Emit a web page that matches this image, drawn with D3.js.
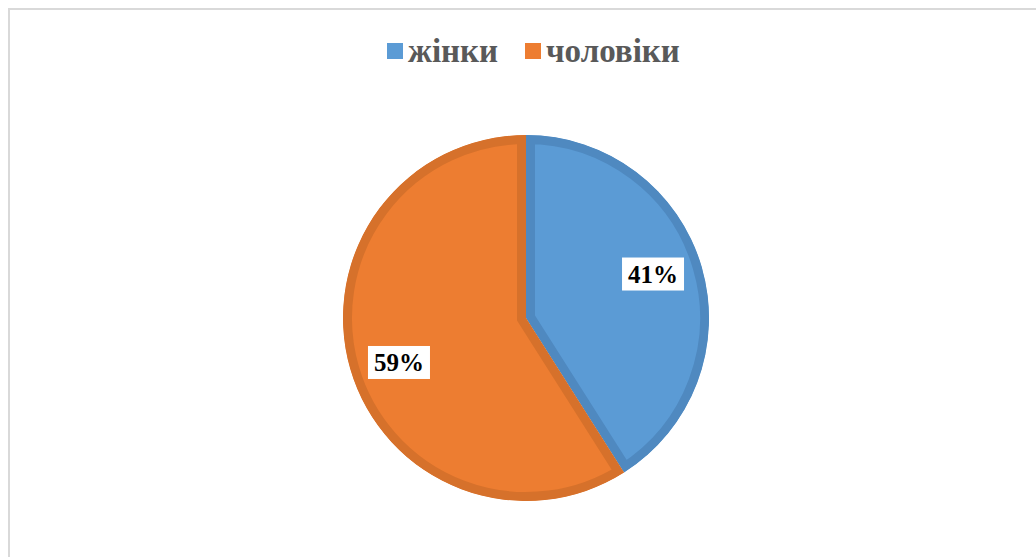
<!DOCTYPE html>
<html>
<head>
<meta charset="utf-8">
<script src="https://cdn.jsdelivr.net/npm/d3@7"></script>
<style>
  body { margin: 0; background: #fff; }
  svg { display: block; }
</style>
</head>
<body>
<svg width="1036" height="557"></svg>
<script>
var categories = ["жінки", "чоловіки"];
var values = [41, 59];
var labels = ["41%", "59%"];
var fills = ["#5b9bd5", "#ed7d31"];
var edges = ["#4f89c0", "#d6712b"];

var svg = d3.select("svg"),
    cx = 526, cy = 318, r = 183;

// chart frame
svg.append("rect")
    .attr("x", 9).attr("y", 9)
    .attr("width", 1040).attr("height", 560)
    .attr("fill", "#fff")
    .attr("stroke", "#d9d9d9")
    .attr("stroke-width", 2);

var pie = d3.pie().sort(null).value(function(d) { return d; });
var arcs = pie(values);
var arc = d3.arc().innerRadius(0).outerRadius(r);
var labelArc = d3.arc().innerRadius(r * 0.735).outerRadius(r * 0.735);
var labelShift = -3 * Math.PI / 180;

var g = svg.append("g").attr("transform", "translate(" + cx + "," + cy + ")");
var defs = svg.append("defs");

arcs.forEach(function(a, i) {
  defs.append("clipPath").attr("id", "clip" + i)
    .append("path").attr("d", arc(a));
});

// slice fill plus a darker inner band along its edges
g.selectAll("path.slice")
    .data(arcs)
  .enter().append("path")
    .attr("class", "slice")
    .attr("d", arc)
    .attr("fill", function(d, i) { return fills[i]; })
    .attr("stroke", function(d, i) { return edges[i]; })
    .attr("stroke-width", 18)
    .attr("stroke-linejoin", "miter")
    .attr("clip-path", function(d, i) { return "url(#clip" + i + ")"; });

// data labels
var lab = g.selectAll("g.lab")
    .data(arcs)
  .enter().append("g")
    .attr("class", "lab")
    .attr("transform", function(d) {
      var s = {startAngle: d.startAngle + labelShift, endAngle: d.endAngle + labelShift};
      return "translate(" + labelArc.centroid(s) + ")";
    });

lab.append("text")
    .attr("text-anchor", "middle")
    .attr("dy", "0.35em")
    .style("font-family", "'Liberation Serif', 'Times New Roman', serif")
    .style("font-weight", "bold")
    .style("font-size", "25px")
    .attr("fill", "#000")
    .text(function(d, i) { return labels[i]; });

lab.each(function() {
  var t = d3.select(this).select("text");
  var b = t.node().getBBox();
  d3.select(this).insert("rect", "text")
      .attr("x", b.x - 6).attr("y", b.y - 3)
      .attr("width", b.width + 12).attr("height", b.height + 6)
      .attr("fill", "#fff");
});

// legend
var legend = svg.append("g").attr("transform", "translate(0,50)");
var legendX = [387, 525];
categories.forEach(function(c, i) {
  legend.append("rect")
      .attr("x", legendX[i]).attr("y", -7)
      .attr("width", 16).attr("height", 16)
      .attr("fill", fills[i]);
  legend.append("text")
      .attr("x", legendX[i] + 21).attr("y", 12)
      .style("font-family", "'Liberation Serif', 'Times New Roman', serif")
      .style("font-weight", "bold")
      .style("font-size", "33px")
      .attr("fill", "#595959")
      .text(c);
});
</script>
</body>
</html>
